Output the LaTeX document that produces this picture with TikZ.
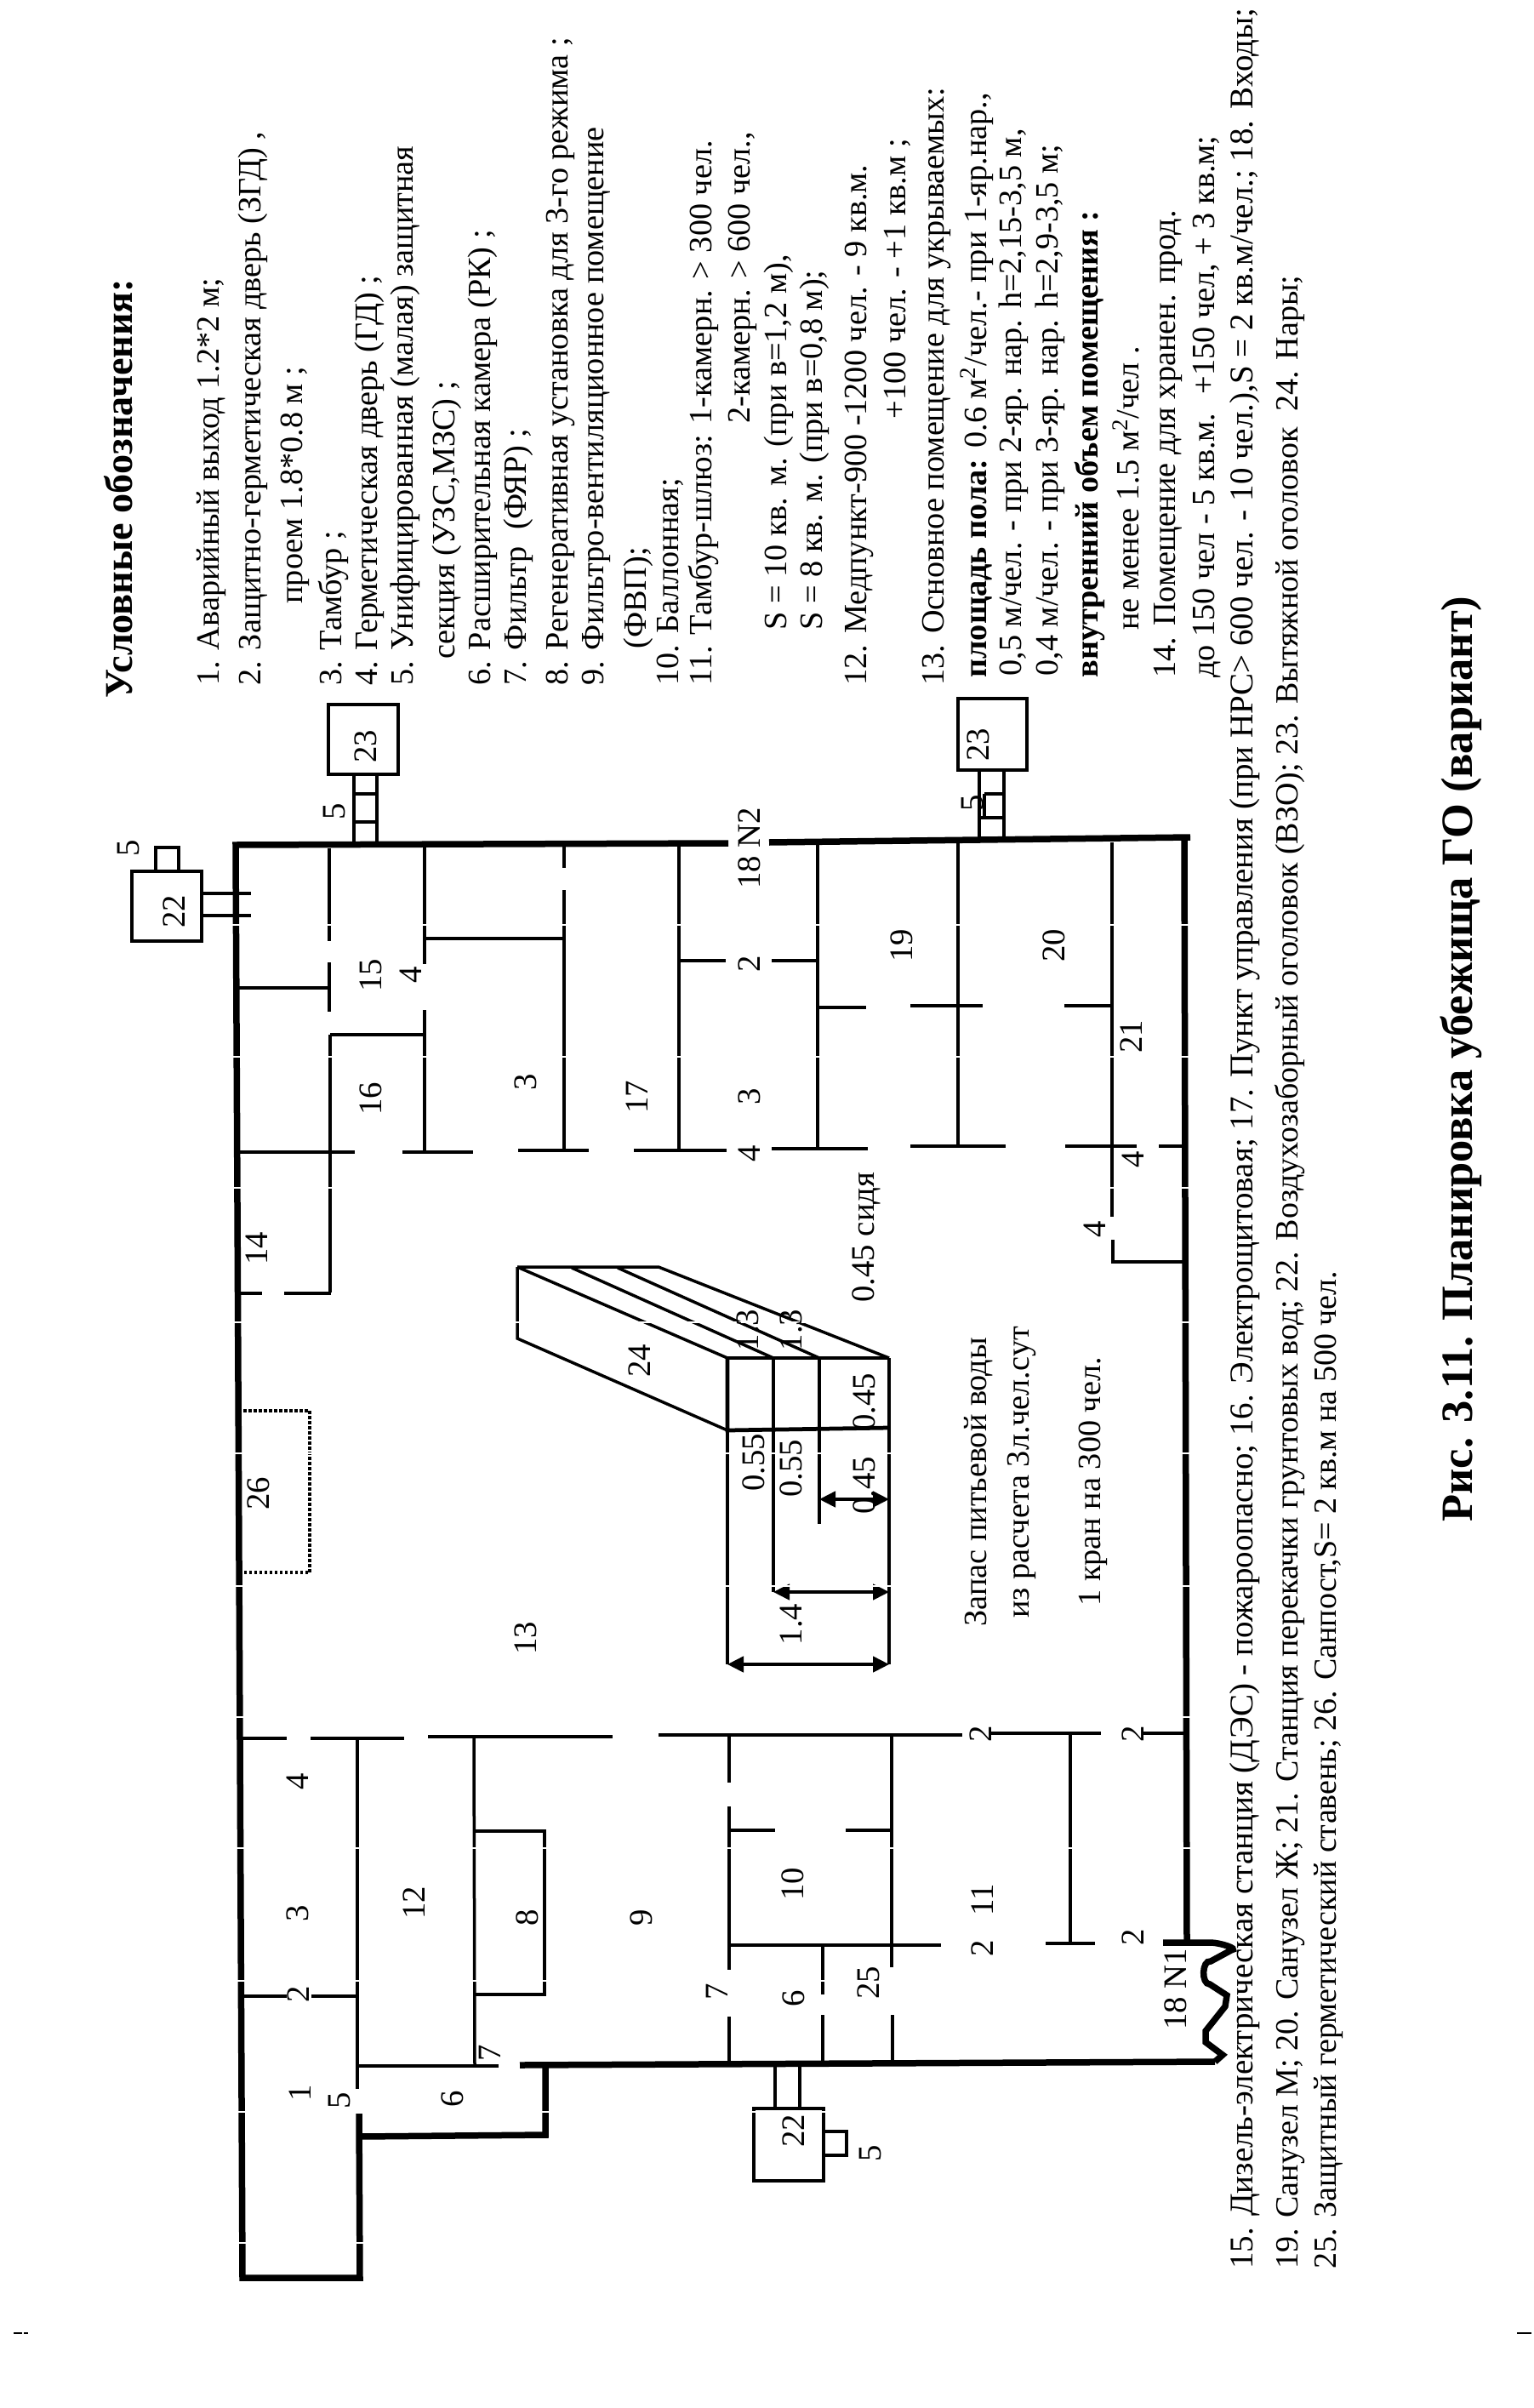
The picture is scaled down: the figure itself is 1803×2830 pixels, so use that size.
\documentclass[tikz,border=0pt]{standalone}
\usepackage{fontspec}
\setmainfont{Liberation Serif}
\usetikzlibrary{arrows.meta}
\tikzset{
  wallline/.style={line width=3pt},
  midline/.style={line width=1.9pt},
  partline/.style={line width=1.4pt},
  dimline/.style={line width=1.3pt,{Triangle[length=7.6pt,width=7.4pt]}-{Triangle[length=7.6pt,width=7.4pt]}},
  lgd/.style={rotate=90,anchor=west,inner sep=0pt,text height=1.5ex,text depth=.4ex,font=\fontsize{15.3pt}{17pt}\selectfont},
  lgdb/.style={lgd,font=\fontsize{15.3pt}{17pt}\selectfont\bfseries},
  lgdn/.style={lgd,font=\fontsize{15.2pt}{17pt}\selectfont},
  num/.style={rotate=90,inner sep=0pt,font=\fontsize{15.5pt}{17pt}\selectfont},
  capb/.style={rotate=90,anchor=west,inner sep=0pt,font=\fontsize{21pt}{23pt}\selectfont\bfseries}
}
\begin{document}
\begin{tikzpicture}[x=0.4pt,y=-0.4pt]
  \useasboundingbox (0,0) rectangle (1803,2830);
  \fill[white] (0,0) rectangle (1803,2830);
  %(walls)
  \draw[wallline] (1399,984) -- (904,990);
  \draw[wallline] (856,991) -- (277,993) -- (285,2677) -- (423,2677) -- (422,2484);
  \draw[wallline] (422,2511) -- (641,2509) -- (641,2427);
  \draw[wallline] (611,2427) -- (1428,2423);
  \draw[wallline] (1392,984) -- (1395,2283);
  \draw[wallline] (1367,2283) -- (1423,2283) to[out=0,in=10] (1447,2292) -- (1423,2305) to[out=170,in=180] (1422,2332) -- (1442,2345) -- (1440,2358) -- (1417,2387) -- (1417,2400) -- (1437,2415) -- (1428,2423);
  %(rooms, top)
  \draw[partline] (387,997) -- (387,1106) (387,1131) -- (387,1189);
  \draw[partline] (277,1161) -- (387,1161);
  \draw[partline] (499,994) -- (499,1133) (499,1187) -- (499,1354);
  \draw[partline] (388,1216) -- (499,1216);
  \draw[partline] (388,1216) -- (388,1519);
  \draw[partline] (499,1103) -- (663,1103);
  \draw[partline] (663,995) -- (663,1020) (663,1046) -- (663,1352);
  \draw[partline] (798,995) -- (798,1352);
  \draw[partline] (798,1129) -- (853,1129) (907,1129) -- (961,1129);
  \draw[partline] (961,991) -- (961,1350);
  \draw[partline] (961,1184) -- (1018,1184) (1070,1182) -- (1155,1182) (1251,1182) -- (1308,1182);
  \draw[partline] (1126,990) -- (1126,1347);
  \draw[partline] (1307,990) -- (1307,1430) (1308,1457) -- (1308,1483) -- (1391,1483);
  \draw[partline] (279,1354) -- (417,1354) (473,1354) -- (556,1354) (609,1352) -- (692,1352) (745,1352) -- (854,1352);
  \draw[partline] (907,1350) -- (1020,1350) (1070,1347) -- (1182,1347) (1252,1347) -- (1336,1347);
  \draw[midline] (1362,1347) -- (1391,1347);
  \draw[partline] (279,1520) -- (308,1520) (334,1520) -- (389,1520);
  %(rooms, bottom)
  \draw[midline] (283,2043) -- (337,2043);
  \draw[partline] (365,2043) -- (475,2043) (503,2041) -- (720,2041) (774,2039) -- (1131,2039);
  \draw[partline] (1165,2037) -- (1294,2037) (1344,2037) -- (1392,2037);
  \draw[partline] (420,2043) -- (420,2455);
  \draw[partline] (557,2041) -- (558,2428);
  \draw[partline] (557,2152) -- (640,2152) -- (640,2344) -- (558,2344);
  \draw[partline] (422,2428) -- (586,2428);
  \draw[midline] (286,2346) -- (337,2346);
  \draw[partline] (366,2346) -- (420,2346);
  \draw[partline] (857,2040) -- (857,2095) (857,2123) -- (857,2315) (857,2370) -- (857,2423);
  \draw[partline] (857,2151) -- (911,2151) (994,2151) -- (1048,2151);
  \draw[partline] (1048,2039) -- (1048,2312) (1049,2368) -- (1049,2422);
  \draw[partline] (857,2286) -- (1106,2286);
  \draw[partline] (967,2288) -- (967,2344) (967,2368) -- (967,2422);
  \draw[partline] (1258,2037) -- (1258,2284);
  \draw[partline] (1229,2284) -- (1287,2284);
  %(vent boxes)
  \draw[partline] (155,1024) rectangle (237,1106);
  \draw[partline] (183,1024) -- (183,996) -- (210,996) -- (210,1024);
  \draw[partline] (237,1050) -- (295,1050) (237,1076) -- (295,1076);
  \draw[midline] (386,828) rectangle (468,910);
  \draw[partline] (416,910) -- (416,993) (443,910) -- (443,993);
  \draw[partline] (416,933) -- (443,933) (416,966) -- (443,966);
  \draw[midline] (1126,821) rectangle (1207,905);
  \draw[midline] (1151,905) -- (1151,985) (1180,905) -- (1180,985);
  \draw[midline] (1151,961) -- (1180,961) (1157,933) -- (1180,933);
  \draw[partline] (1157,933) -- (1157,961);
  \draw[midline] (886,2478) rectangle (968,2563);
  \draw[partline] (911,2429) -- (911,2478) (940,2429) -- (940,2478);
  \draw[midline] (968,2505) -- (995,2505) -- (995,2533) -- (968,2533);
  %(bunks)
  \draw[partline] (608,1489) -- (774,1489) -- (1045,1596);
  \draw[partline] (608,1489) -- (855,1596);
  \draw[partline] (608,1489) -- (608,1573) -- (855,1681);
  \draw[partline] (672,1490) -- (909,1596) (726,1490) -- (963,1596);
  \draw[midline] (855,1596) -- (1045,1596);
  \draw[midline] (855,1596) -- (855,1681) -- (1045,1678);
  \draw[partline] (855,1681) -- (855,1956);
  \draw[partline] (909,1596) -- (909,1871);
  \draw[partline] (963,1596) -- (963,1791);
  \draw[partline] (1045,1596) -- (1045,1956);
  \draw[dimline] (963,1762) -- (1045,1762);
  \draw[dimline] (909,1871) -- (1045,1871);
  \draw[dimline] (855,1956) -- (1045,1956);
  \draw[partline,densely dotted] (286,1658) -- (364,1658) -- (364,1848) -- (286,1848);
  %(scan stripes)
  \foreach \ys in {1087,1242,1396,1554,1708,1864,2018,2172,2328,2482,2636}
    \draw[white,line width=0.9pt] (265,\ys) -- (1405,\ys);
  %(room numbers)
  \draw (151,997) node[num] (n5a) {5};
  \draw (205,1071) node[num] (n22a) {22};
  \draw (393,954) node[num] (n5b) {5};
  \draw (430,877) node[num] (n23a) {23};
  \draw (1143,944) node[num] (n5c) {5};
  \draw (1150,875) node[num] (n23b) {23};
  \draw (881,997) node[num] (n18b) {18 N2};
  \draw (881,1133) node[num] (n2a) {2};
  \draw (881,1289) node[num] (n3a) {3};
  \draw (881,1356) node[num] (n4a) {4};
  \draw (1060,1111) node[num] (n19) {19};
  \draw (436,1146) node[num] (n15) {15};
  \draw (483,1146) node[num] (n4b) {4};
  \draw (436,1291) node[num] (n16) {16};
  \draw (618,1272) node[num] (n3b) {3};
  \draw (749,1289) node[num] (n17) {17};
  \draw (1239,1111) node[num] (n20) {20};
  \draw (1330,1218) node[num] (n21) {21};
  \draw (1332,1363) node[num] (n4c) {4};
  \draw (1287,1445) node[num] (n4d) {4};
  \draw (302,1467) node[num] (n14) {14};
  \draw (304,1755) node[num] (n26) {26};
  \draw (618,1925) node[num] (n13) {13};
  \draw (752,1599) node[num] (n24) {24};
  \draw (879,1563) node[num] (d13a) {1.3};
  \draw (930,1563) node[num] (d13b) {1.3};
  \draw (886,1719) node[num] (d55a) {0.55};
  \draw (930,1726) node[num] (d55b) {0.55};
  \draw (1016,1648) node[num] (d45a) {0.45};
  \draw (1016,1746) node[num] (d45b) {0.45};
  \draw (930,1909) node[num] (d14) {1.4};
  \draw (1018,1454) node[num] (sit) {0.45 сидя};
  \draw (350,2094) node[num] (n4e) {4};
  \draw (350,2249) node[num] (n3c) {3};
  \draw (487,2236) node[num] (n12) {12};
  \draw (620,2254) node[num] (n8) {8};
  \draw (754,2254) node[num] (n9) {9};
  \draw (932,2214) node[num] (n10) {10};
  \draw (1155,2233) node[num] (n11) {11};
  \draw (1155,2290) node[num] (n2b) {2};
  \draw (1153,2038) node[num] (n2c) {2};
  \draw (1332,2038) node[num] (n2d) {2};
  \draw (1332,2277) node[num] (n2e) {2};
  \draw (843,2341) node[num] (n7a) {7};
  \draw (933,2349) node[num] (n6a) {6};
  \draw (1021,2330) node[num] (n25) {25};
  \draw (351,2344) node[num] (n2f) {2};
  \draw (353,2460) node[num] (n1) {1};
  \draw (399,2469) node[num] (n5d) {5};
  \draw (532,2467) node[num] (n6b) {6};
  \draw (576,2413) node[num] (n7b) {7};
  \draw (933,2504) node[num] (n22b) {22};
  \draw (1023,2531) node[num] (n5e) {5};
  \draw (1382,2338) node[num] (n18a) {18 N1};
  %(notes on the plan)
  \draw (1153,1912) node[lgd] (water1) {Запас питьевой воды};
  \draw (1203,1902) node[lgd] (water2) {из расчета 3л.чел.сут};
  \draw (1287,1888) node[lgd] (tap) {1 кран на 300 чел.};
  %(legend)
  \draw (149,821) node[lgdb,font=\fontsize{18.5pt}{20pt}\selectfont\bfseries] (lgdtitle) {Условные обозначения:};
  \draw (251,806) node[lgd] (l1) {1. Аварийный выход 1.2*2 м;};
  \draw (300,806) node[lgd] (l2) {2. Защитно-герметическая дверь (ЗГД) ,};
  \draw (349,710) node[lgd] (l2b) {проем 1.8*0.8 м ;};
  \draw (395,806) node[lgd] (l3) {3. Тамбур ;};
  \draw (437,806) node[lgd] (l4) {4. Герметическая дверь (ГД) ;};
  \draw (479,806) node[lgd] (l5) {5. Унифицированная (малая) защитная};
  \draw (528,775) node[lgd] (l5b) {секция (УЗС,МЗС) ;};
  \draw (570,806) node[lgd] (l6) {6. Расширительная камера (РК) ;};
  \draw (612,806) node[lgd] (l7) {7. Фильтр \ (ФЯР) ;};
  \draw (661,806) node[lgd] (l8) {8. Регенеративная установка для 3-го режима ;};
  \draw (703,806) node[lgd] (l9) {9. Фильтро-вентиляционное помещение};
  \draw (753,763) node[lgd] (l9b) {(ФВП);};
  \draw (791,806) node[lgd] (l10) {10. Баллонная;};
  \draw (830,806) node[lgd] (l11) {11. Тамбур-шлюз: 1-камерн. > 300 чел.};
  \draw (875,498) node[lgd] (l11b) {2-камерн. > 600 чел.,};
  \draw (918,741) node[lgd] (l11c) {S = 10 кв. м. (при в=1,2 м),};
  \draw (960,741) node[lgd] (l11d) {S = 8 кв. м. (при в=0,8 м);};
  \draw (1012,806) node[lgd] (l12) {12. Медпункт-900 -1200 чел. - 9 кв.м.};
  \draw (1058,493) node[lgd] (l12b) {+100 чел. - +1 кв.м ;};
  \draw (1103,806) node[lgd] (l13) {13. Основное помещение для укрываемых:};
  \draw (1153,797) node[lgd] (l13b) {\textbf{площадь пола:} 0.6 м\textsuperscript{2}/чел.- при 1-яр.нар.,};
  \draw (1194,795) node[lgd] (l13c) {0,5 м/чел. - при 2-яр. нар. h=2,15-3,5 м,};
  \draw (1237,795) node[lgd] (l13d) {0,4 м/чел. - при 3-яр. нар. h=2,9-3,5 м;};
  \draw (1284,797) node[lgdb] (l13e) {внутренний объем помещения :};
  \draw (1332,741) node[lgd] (l13f) {не менее 1.5 м\textsuperscript{2}/чел .};
  \draw (1375,797) node[lgd] (l14) {14. Помещение для хранен. прод.};
  \draw (1421,797) node[lgd] (l14b) {до 150 чел - 5 кв.м. \ +150 чел, + 3 кв.м;};
  \draw (1466,2667) node[lgd,font=\fontsize{15.6pt}{17pt}\selectfont] (l15) {15. Дизель-электрическая станция (ДЭС) - пожароопасно; 16. Электрощитовая; 17. Пункт управления (при НРС> 600 чел. - 10 чел.),S = 2 кв.м/чел.; 18. Входы;};
  \draw (1519,2667) node[lgdn] (l19) {19. Санузел М; 20. Санузел Ж; 21. Станция перекачки грунтовых вод; 22. Воздухозаборный оголовок (ВЗО); 23. Вытяжной оголовок \ 24. Нары;};
  \draw (1564,2667) node[lgdn] (l25) {25. Защитный герметический ставень; 26. Санпост,S= 2 кв.м на 500 чел.};
  \draw (1717,1789) node[capb] (caption) {Рис. 3.11. Планировка убежища ГО (вариант)};
  %(page marks)
  \draw[line width=0.8pt] (16,2742) -- (26,2742) (28,2742) -- (33,2742) (1783,2742) -- (1800,2742);
\end{tikzpicture}
\end{document}
